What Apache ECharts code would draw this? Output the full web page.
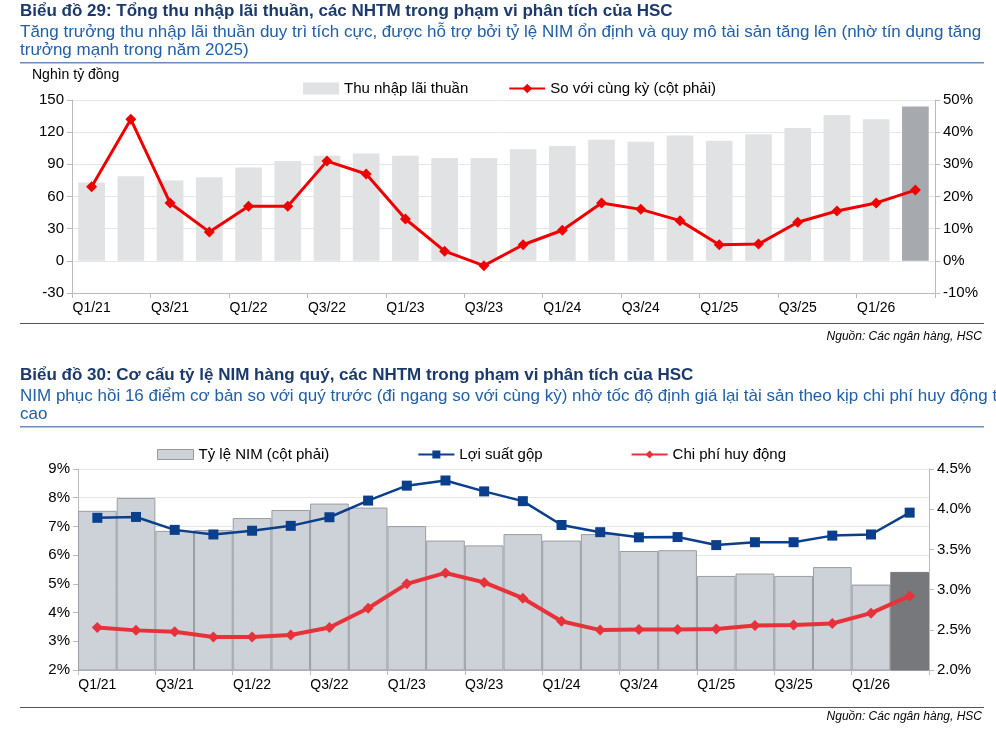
<!DOCTYPE html>
<html>
<head>
<meta charset="utf-8">
<script src="https://cdn.jsdelivr.net/npm/echarts@6/dist/echarts.min.js"></script>
<style>
    html, body { margin: 0; padding: 0; background: #fff; }
    #chart { width: 996px; height: 736px; }
</style>
</head>
<body>
<div id="chart"></div>
<script>
// Các quý
const quarters = ['Q1/21', 'Q2/21', 'Q3/21', 'Q4/21', 'Q1/22', 'Q2/22', 'Q3/22', 'Q4/22',
    'Q1/23', 'Q2/23', 'Q3/23', 'Q4/23', 'Q1/24', 'Q2/24', 'Q3/24', 'Q4/24',
    'Q1/25', 'Q2/25', 'Q3/25', 'Q4/25', 'Q1/26', 'Q2/26'];

// Biểu đồ 29
const netInterest = [73, 79, 75, 78, 87, 93, 98, 100, 98, 96, 96, 104, 107, 113, 111, 117, 112, 118, 124, 136, 132, 144];
const yoyGrowth = [23, 44, 18, 9, 17, 17, 31, 27, 13, 3, -1.5, 5, 9.5, 18, 16, 12.5, 5, 5.2, 12, 15.5, 18, 22];

// Biểu đồ 30
const nimRatio = [3.98, 4.14, 3.73, 3.74, 3.89, 3.99, 4.07, 4.02, 3.79, 3.61, 3.55, 3.69,
    3.61, 3.69, 3.48, 3.49, 3.17, 3.2, 3.17, 3.28, 3.06, 3.22];
const grossYield = [7.3, 7.33, 6.88, 6.72, 6.85, 7.02, 7.32, 7.9, 8.42, 8.6, 8.22, 7.88,
    7.05, 6.8, 6.62, 6.63, 6.35, 6.45, 6.45, 6.68, 6.72, 7.48];
const fundingCost = [3.48, 3.38, 3.33, 3.15, 3.15, 3.22, 3.48, 4.15, 5.0, 5.38, 5.05, 4.5,
    3.7, 3.39, 3.41, 3.41, 3.43, 3.55, 3.57, 3.62, 3.98, 4.58];

const FONT = 'Arial, "Liberation Sans", sans-serif';
const last = quarters.length - 1;

function barData(arr, color, lastColor) {
    return arr.map((v, i) => ({value: v, itemStyle: {color: i === last ? lastColor : color}}));
}

function catAxis(gridIndex) {
    return {
        type: 'category', gridIndex: gridIndex, data: quarters,
        axisLine: {onZero: false, lineStyle: {color: '#bbb'}},
        axisTick: {show: true, alignWithLabel: false, lineStyle: {color: '#bbb'}},
        axisLabel: {interval: 1, color: '#000', fontSize: 14, fontFamily: FONT}
    };
}

function valAxis(gridIndex, min, max, interval, fmt, showSplit) {
    return {
        type: 'value', gridIndex: gridIndex, min: min, max: max, interval: interval,
        axisLine: {show: true, lineStyle: {color: '#bbb'}},
        axisTick: {show: true, lineStyle: {color: '#bbb'}},
        axisLabel: {color: '#000', fontSize: 15, fontFamily: FONT, formatter: fmt},
        splitLine: {show: showSplit, lineStyle: {color: '#e6e6e6'}}
    };
}

function titleBlock(y, title, sub1, sub2) {
    return [
        {type: 'text', left: 20, top: y, style: {text: title, font: 'bold 17px ' + FONT, fill: '#1b3a6b'}},
        {type: 'text', left: 20, top: y + 21, style: {text: sub1, font: '17px ' + FONT, fill: '#1f5fa8'}},
        {type: 'text', left: 20, top: y + 39, style: {text: sub2, font: '17px ' + FONT, fill: '#1f5fa8'}},
        {type: 'rect', shape: {x: 20, y: y + 59, width: 964, height: 1.5}, style: {fill: '#6b8cba'}}
    ];
}

const chart = echarts.init(document.getElementById('chart'));

chart.setOption({
    animation: false,
    textStyle: {fontFamily: FONT},
    graphic: [
        ...titleBlock(3, 'Biểu đồ 29: Tổng thu nhập lãi thuần, các NHTM trong phạm vi phân tích của HSC',
            'Tăng trưởng thu nhập lãi thuần duy trì tích cực, được hỗ trợ bởi tỷ lệ NIM ổn định và quy mô tài sản tăng lên (nhờ tín dụng tăng',
            'trưởng mạnh trong năm 2025)'),
        {type: 'text', left: 32, top: 68, style: {text: 'Nghìn tỷ đồng', font: '14px ' + FONT, fill: '#000'}},
        {type: 'rect', shape: {x: 20, y: 323, width: 964, height: 1}, style: {fill: '#555'}},
        {type: 'text', right: 14, top: 331, style: {text: 'Nguồn: Các ngân hàng, HSC', font: 'italic 12px ' + FONT, fill: '#000'}},
        ...titleBlock(367, 'Biểu đồ 30: Cơ cấu tỷ lệ NIM hàng quý, các NHTM trong phạm vi phân tích của HSC',
            'NIM phục hồi 16 điểm cơ bản so với quý trước (đi ngang so với cùng kỳ) nhờ tốc độ định giá lại tài sản theo kịp chi phí huy động tăng',
            'cao'),
        {type: 'rect', shape: {x: 20, y: 707, width: 964, height: 1}, style: {fill: '#555'}},
        {type: 'text', right: 14, top: 711, style: {text: 'Nguồn: Các ngân hàng, HSC', font: 'italic 12px ' + FONT, fill: '#000'}}
    ],
    legend: [
        {
            top: 76, left: 298, itemGap: 40, itemWidth: 36, itemHeight: 12,
            textStyle: {fontSize: 15, color: '#000'},
            data: [{name: 'Thu nhập lãi thuần', icon: 'rect', itemStyle: {color: '#e1e2e4'}}, 'So với cùng kỳ (cột phải)']
        },
        {
            top: 442, left: 152, itemGap: 88, itemWidth: 36, itemHeight: 10,
            textStyle: {fontSize: 15, color: '#000'},
            data: [{name: 'Tỷ lệ NIM (cột phải)', icon: 'rect', itemStyle: {color: '#cdd1d8', borderColor: '#999', borderWidth: 1}},
                'Lợi suất gộp', 'Chi phí huy động']
        }
    ],
    grid: [
        {left: 72, right: 61, top: 100, height: 193},
        {left: 78, right: 67, top: 469, height: 201}
    ],
    xAxis: [catAxis(0), catAxis(1)],
    yAxis: [
        valAxis(0, -30, 150, 30, '{value}', true),
        valAxis(0, -10, 50, 10, '{value}%', false),
        valAxis(1, 2, 9, 1, '{value}%', true),
        valAxis(1, 2.0, 4.5, 0.5, v => v.toFixed(1) + '%', false)
    ],
    series: [
        {
            name: 'Thu nhập lãi thuần', type: 'bar', xAxisIndex: 0, yAxisIndex: 0,
            barWidth: '68%', data: barData(netInterest, '#e1e2e4', '#a6a9ad')
        },
        {
            name: 'So với cùng kỳ (cột phải)', type: 'line', xAxisIndex: 0, yAxisIndex: 1,
            data: yoyGrowth, symbol: 'diamond', symbolSize: 11,
            lineStyle: {color: '#ee0000', width: 3}, itemStyle: {color: '#ee0000'}
        },
        {
            name: 'Tỷ lệ NIM (cột phải)', type: 'bar', xAxisIndex: 1, yAxisIndex: 3,
            barWidth: '100%', data: nimRatio.map((v, i) => ({
                value: v,
                itemStyle: {color: i === last ? '#76787c' : '#cdd1d8', borderColor: i === last ? '#76787c' : '#9a9da3', borderWidth: 1}
            }))
        },
        {
            name: 'Lợi suất gộp', type: 'line', xAxisIndex: 1, yAxisIndex: 2,
            data: grossYield, symbol: 'rect', symbolSize: 10,
            lineStyle: {color: '#0b3f8c', width: 2.5}, itemStyle: {color: '#0b3f8c'}
        },
        {
            name: 'Chi phí huy động', type: 'line', xAxisIndex: 1, yAxisIndex: 2,
            data: fundingCost, symbol: 'diamond', symbolSize: 11,
            lineStyle: {color: '#e8323a', width: 4}, itemStyle: {color: '#e8323a'}
        }
    ]
});
</script>
</body>
</html>
